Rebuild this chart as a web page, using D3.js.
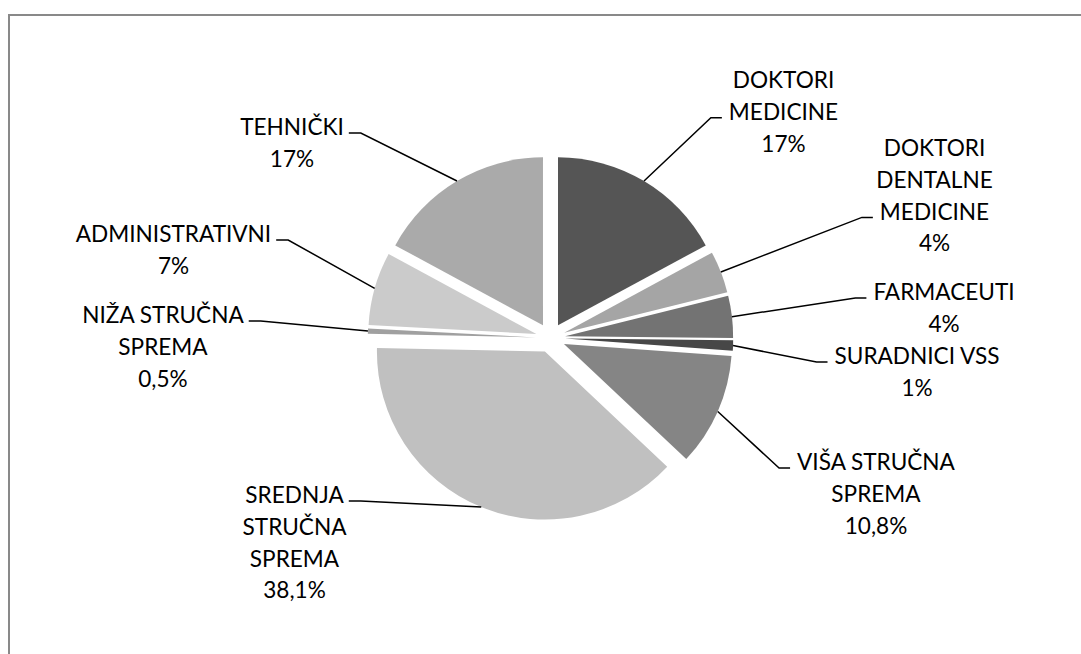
<!DOCTYPE html>
<html>
<head>
<meta charset="utf-8">
<script src="https://cdn.jsdelivr.net/npm/d3@7"></script>
<style>
  html, body { margin: 0; padding: 0; background: #fff; }
  svg { display: block; }
  text { font-family: Lato, "Open Sans", "Noto Sans", sans-serif; }
</style>
</head>
<body>
<svg id="chart" width="1081" height="654"></svg>
<script>
// Staff structure by qualification (share in %), clockwise from 12 o'clock
const categories = [
  "DOKTORI MEDICINE",
  "DOKTORI DENTALNE MEDICINE",
  "FARMACEUTI",
  "SURADNICI VSS",
  "VIŠA STRUČNA SPREMA",
  "SREDNJA STRUČNA SPREMA",
  "NIŽA STRUČNA SPREMA",
  "ADMINISTRATIVNI",
  "TEHNIČKI"
];
const shares = [17, 4, 4, 1, 10.8, 38.1, 0.5, 7, 17];

// How each category name wraps inside its label
const labelLines = [
  ["DOKTORI", "MEDICINE"],
  ["DOKTORI", "DENTALNE", "MEDICINE"],
  ["FARMACEUTI"],
  ["SURADNICI VSS"],
  ["VIŠA STRUČNA", "SPREMA"],
  ["SREDNJA", "STRUČNA", "SPREMA"],
  ["NIŽA STRUČNA", "SPREMA"],
  ["ADMINISTRATIVNI"],
  ["TEHNIČKI"]
];

// Slice fills
const fills = ["#555555", "#a5a5a5", "#737373", "#474747", "#858585",
               "#c0c0c0", "#a0a0a0", "#cbcbcb", "#aaaaaa"];

// Label placement: text centre x, first line centre y, line the leader attaches to
const labelPlacement = [
  { x: 783.5, y: 80,  attach: 1 },
  { x: 934.5, y: 148, attach: 2 },
  { x: 944,   y: 292, attach: 0 },
  { x: 917,   y: 356, attach: 0 },
  { x: 876,   y: 462, attach: 0 },
  { x: 294.5, y: 495, attach: 0 },
  { x: 163,   y: 315, attach: 0 },
  { x: 173.5, y: 234, attach: 0 },
  { x: 292,   y: 127, attach: 0 }
];

const width = 1081, height = 654;
const cx = 550.5, cy = 338;
const radius = 168;
const explode = 14.7;
const lineGap = 31.7;
const fontSize = 22.6;

const fmtPct = v => String(v).replace(".", ",") + "%";

const svg = d3.select("#chart");

// chart area frame
svg.append("rect")
  .attr("x", 9).attr("y", 15)
  .attr("width", width + 20).attr("height", height + 20)
  .attr("fill", "#fff")
  .attr("stroke", "#898989")
  .attr("stroke-width", 2);

const pie = d3.pie().sort(null).value(d => d);
const arcs = pie(shares);
const arc = d3.arc().innerRadius(0).outerRadius(radius);

const g = svg.append("g").attr("transform", `translate(${cx},${cy})`);

// direction of each slice bisector
const mid = a => (a.startAngle + a.endAngle) / 2;
const offset = a => [Math.sin(mid(a)) * explode, -Math.cos(mid(a)) * explode];

g.selectAll("path.slice")
  .data(arcs)
  .join("path")
  .attr("class", "slice")
  .attr("d", arc)
  .attr("fill", (d, i) => fills[i])
  .attr("transform", d => `translate(${offset(d)[0]},${offset(d)[1]})`);

// Labels
const labels = svg.append("g");
arcs.forEach((a, i) => {
  const p = labelPlacement[i];
  const lines = labelLines[i].concat([fmtPct(shares[i])]);
  const t = labels.append("text")
    .attr("text-anchor", "middle")
    .attr("font-size", fontSize)
    .attr("fill", "#000");
  const spans = lines.map((s, k) =>
    t.append("tspan")
      .attr("x", p.x)
      .attr("y", p.y + k * lineGap + fontSize * 0.36)
      .text(s)
  );

  // leader line: short horizontal tail from the text, then to the slice's outer bisector
  const w = spans[p.attach].node().getComputedTextLength();
  const [ox, oy] = offset(a);
  const m = mid(a);
  const ex = cx + ox + Math.sin(m) * radius;
  const ey = cy + oy - Math.cos(m) * radius;
  const ly = p.y + p.attach * lineGap + 6;
  const rightSide = p.x > cx;
  const sx = rightSide ? p.x - w / 2 - 7 : p.x + w / 2 + 5;
  const kx = rightSide ? sx - 11 : sx + 12;
  labels.append("path")
    .attr("d", d3.line()([[sx, ly], [kx, ly], [ex, ey]]))
    .attr("fill", "none")
    .attr("stroke", "#000")
    .attr("stroke-width", 1.5);
});
</script>
</body>
</html>
